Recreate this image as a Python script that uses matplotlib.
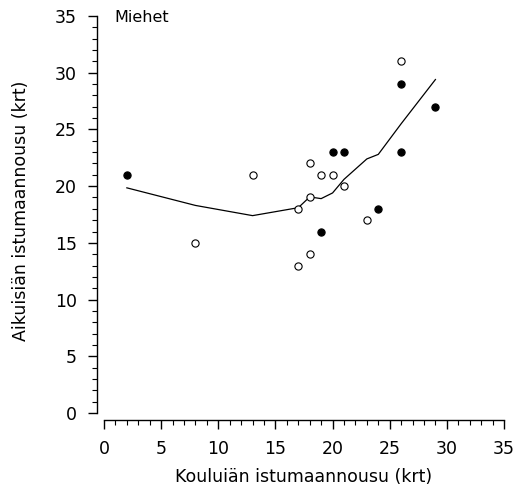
import matplotlib
matplotlib.use("Agg")
import matplotlib.pyplot as plt
from matplotlib.ticker import MultipleLocator

plt.rcParams['font.family'] = ['DejaVu Sans']

open_x = [8, 13, 17, 17, 18, 18, 18, 19, 20, 21, 23, 26]
open_y = [15, 21, 13, 18, 14, 19, 22, 21, 21, 20, 17, 31]
filled_x = [2, 19, 20, 21, 24, 26, 26, 29]
filled_y = [21, 16, 23, 23, 18, 23, 29, 27]
smooth_x = [2, 8, 13, 17, 18, 19, 20, 21, 23, 24, 26, 29]
smooth_y = [19.85, 18.3, 17.4, 18.1, 19.05, 18.9, 19.4, 20.6, 22.4, 22.8, 25.5, 29.4]
ticks = [0, 5, 10, 15, 20, 25, 30, 35]

W, H = 514, 487
fig = plt.figure(figsize=(W / 100, H / 100), dpi=100)
ax = fig.add_axes([104 / W, 1 - 413 / H, 400 / W, 397 / H])

ax.plot(smooth_x, smooth_y, color='black', lw=0.9, zorder=2)
ax.plot(open_x, open_y, 'o', ms=5.2, mfc='white', mec='black', mew=0.8, zorder=3, clip_on=False)
ax.plot(filled_x, filled_y, 'o', ms=5.2, mfc='black', mec='black', mew=0.8, zorder=3, clip_on=False)

ax.set_xlim(0, 35)
ax.set_ylim(0, 35)
ax.set_xticks(ticks)
ax.set_yticks(ticks)
ax.xaxis.set_minor_locator(MultipleLocator(1))
ax.yaxis.set_minor_locator(MultipleLocator(1))

for s in ['top', 'right']:
    ax.spines[s].set_visible(False)
ax.spines['left'].set_position(('outward', 5))
ax.spines['bottom'].set_position(('outward', 5))
for s in ['left', 'bottom']:
    ax.spines[s].set_linewidth(1.0)

ax.tick_params(which='major', direction='out', length=6.5, width=1.0,
               labelsize=12.5, colors='black')
ax.tick_params(axis='x', which='major', pad=8)
ax.tick_params(axis='y', which='major', pad=8)
ax.tick_params(which='minor', direction='out', length=3.5, width=0.8)

ax.set_xlabel('Kouluiän istumaannousu (krt)', fontsize=12.5, labelpad=7)
ax.set_ylabel('Aikuisiän istumaannousu (krt)', fontsize=12.5)
ax.yaxis.set_label_coords(-0.185, 0.51)

ax.text(0.95, 34.5, 'Miehet', fontsize=11.5, va='baseline', ha='left')

fig.savefig('out.png', dpi=100)
